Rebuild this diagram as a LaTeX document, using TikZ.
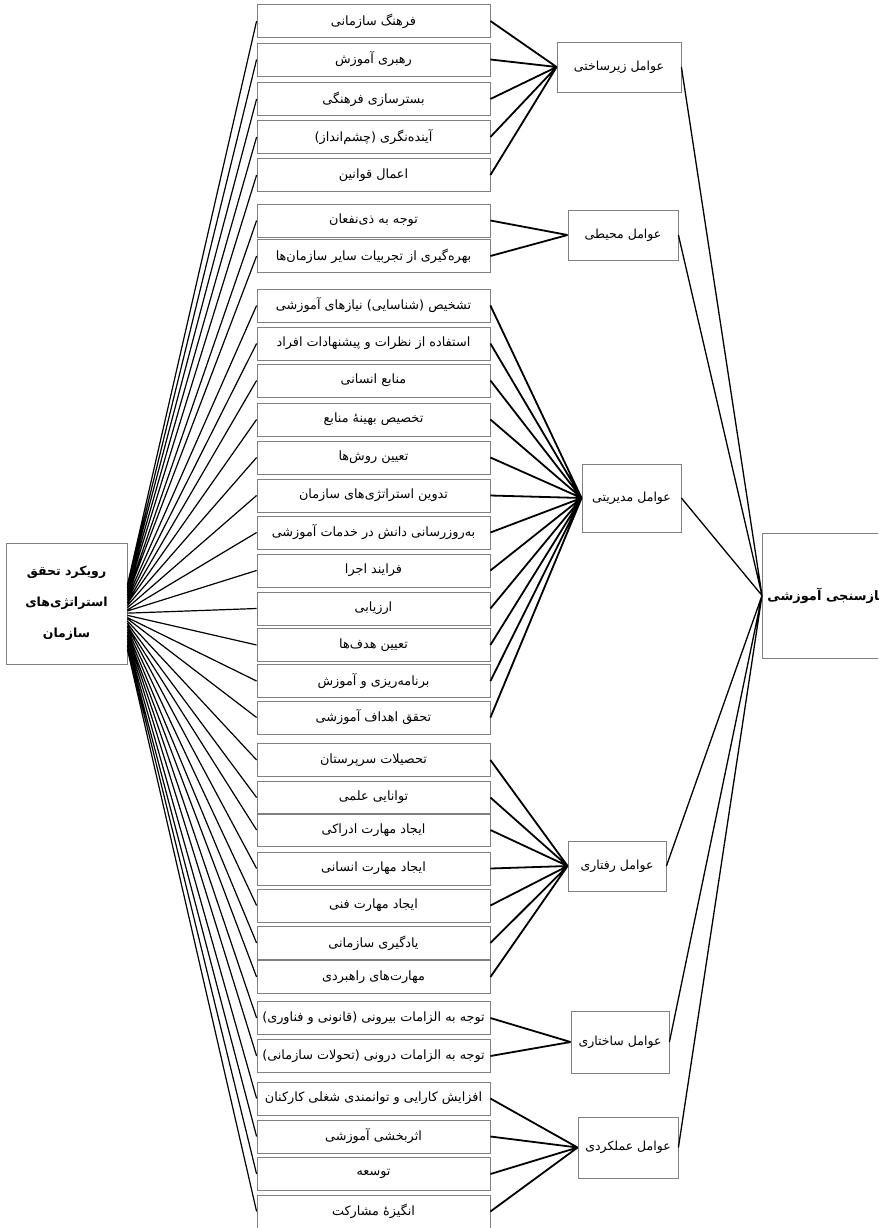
\documentclass[tikz,border=0pt]{standalone}
\usepackage{fontspec}
\newfontfamily\fa[Script=Arabic]{DejaVu Sans}
\TeXXeTstate=1
\newcommand{\farsi}[1]{\beginR #1\endR}
\usetikzlibrary{positioning}
\tikzset
{
    itembox/.style   = {rectangle, draw=gray, line width=0.8pt, align=center, minimum width=233pt, minimum height=33pt, inner sep=1pt, font=\fa\fontsize{12.8}{15}\selectfont},
    factorbox/.style = {rectangle, draw=gray, line width=0.8pt, align=center, inner sep=1pt, font=\fa\fontsize{12.5}{15}\selectfont},
    rootbox/.style   = {rectangle, draw=gray, line width=0.8pt, align=center, minimum width=121pt, minimum height=121pt, font=\fa\bfseries\fontsize{12.5}{31}\selectfont},
    mainbox/.style   = {rectangle, draw=gray, line width=0.8pt, anchor=west, minimum height=125pt, inner xsep=5pt, font=\fa\bfseries\fontsize{13}{15}\selectfont},
    rootline/.style   = {line width=1.2pt},
    factorline/.style = {line width=1.8pt},
    mainline/.style   = {line width=1.3pt}
}

\begin{document}
\begin{tikzpicture}[x=1pt, y=-1pt]
    \useasboundingbox (0,0) rectangle (878,1228);
    \clip (0,0) rectangle (878,1228);

    % left and right ends
    \node [rootbox] (root) at (66.5,603.5) {\farsi{رویکرد تحقق}\\ \farsi{استراتژی‌های}\\ \farsi{سازمان}};
    \node [mainbox] (main) at (762,595.5) {\farsi{نیازسنجی آموزشی}};

    % factors
    \node [factorbox, minimum width=124pt, minimum height=50pt] (infra)  at (619,67)     {\farsi{عوامل زیرساختی}};
    \node [factorbox, minimum width=110pt, minimum height=50pt] (envir)  at (623,235)    {\farsi{عوامل محیطی}};
    \node [factorbox, minimum width=99pt,  minimum height=68pt] (manag)  at (631.5,498)  {\farsi{عوامل مدیریتی}};
    \node [factorbox, minimum width=98pt,  minimum height=50pt] (behav)  at (617,866)    {\farsi{عوامل رفتاری}};
    \node [factorbox, minimum width=98pt,  minimum height=62pt] (struc)  at (620,1042)   {\farsi{عوامل ساختاری}};
    \node [factorbox, minimum width=100pt, minimum height=61pt] (perf)   at (628,1147.5) {\farsi{عوامل عملکردی}};

    % items
    \node [itembox] (i1)  at (373.5,21)     {\farsi{فرهنگ سازمانی}};
    \node [itembox] (i2)  at (373.5,59.5)   {\farsi{رهبری آموزش}};
    \node [itembox] (i3)  at (373.5,99)     {\farsi{بسترسازی فرهنگی}};
    \node [itembox] (i4)  at (373.5,137)    {\farsi{آینده‌نگری (چشم‌انداز)}};
    \node [itembox] (i5)  at (373.5,175)    {\farsi{اعمال قوانین}};
    \node [itembox] (i6)  at (373.5,220.5)  {\farsi{توجه به ذی‌نفعان}};
    \node [itembox] (i7)  at (373.5,256)    {\farsi{بهره‌گیری از تجربیات سایر سازمان‌ها}};
    \node [itembox] (i8)  at (373.5,305.5)  {\farsi{تشخیص (شناسایی) نیازهای آموزشی}};
    \node [itembox] (i9)  at (373.5,343.5)  {\farsi{استفاده از نظرات و پیشنهادات افراد}};
    \node [itembox] (i10) at (373.5,380.5)  {\farsi{منابع انسانی}};
    \node [itembox] (i11) at (373.5,419.5)  {\farsi{تخصیص بهینهٔ منابع}};
    \node [itembox] (i12) at (373.5,457.5)  {\farsi{تعیین روش‌ها}};
    \node [itembox] (i13) at (373.5,495.5)  {\farsi{تدوین استراتژی‌های سازمان}};
    \node [itembox] (i14) at (373.5,532.5)  {\farsi{به‌روزرسانی دانش در خدمات آموزشی}};
    \node [itembox] (i15) at (373.5,570.5)  {\farsi{فرایند اجرا}};
    \node [itembox] (i16) at (373.5,608.5)  {\farsi{ارزیابی}};
    \node [itembox] (i17) at (373.5,645)    {\farsi{تعیین هدف‌ها}};
    \node [itembox] (i18) at (373.5,681)    {\farsi{برنامه‌ریزی و آموزش}};
    \node [itembox] (i19) at (373.5,717.5)  {\farsi{تحقق اهداف آموزشی}};
    \node [itembox] (i20) at (373.5,760)    {\farsi{تحصیلات سرپرستان}};
    \node [itembox] (i21) at (373.5,797.5)  {\farsi{توانایی علمی}};
    \node [itembox] (i22) at (373.5,830)    {\farsi{ایجاد مهارت ادراکی}};
    \node [itembox] (i23) at (373.5,868.5)  {\farsi{ایجاد مهارت انسانی}};
    \node [itembox] (i24) at (373.5,905.5)  {\farsi{ایجاد مهارت فنی}};
    \node [itembox] (i25) at (373.5,943)    {\farsi{یادگیری سازمانی}};
    \node [itembox] (i26) at (373.5,977)    {\farsi{مهارت‌های راهبردی}};
    \node [itembox] (i27) at (373.5,1018)   {\farsi{توجه به الزامات بیرونی (قانونی و فناوری)}};
    \node [itembox] (i28) at (373.5,1056)   {\farsi{توجه به الزامات درونی (تحولات سازمانی)}};
    \node [itembox] (i29) at (373.5,1098.5) {\farsi{افزایش کارایی و توانمندی شغلی کارکنان}};
    \node [itembox] (i30) at (373.5,1136.5) {\farsi{اثربخشی آموزشی}};
    \node [itembox] (i31) at (373.5,1174)   {\farsi{توسعه}};
    \node [itembox] (i32) at (373.5,1211.5) {\farsi{انگیزهٔ مشارکت}};

    % root fan
    \draw [rootline]
        (root.17) -- (i1.west)   (root.15) -- (i2.west)   (root.14) -- (i3.west)   (root.12) -- (i4.west)
        (root.10) -- (i5.west)   (root.8) -- (i6.west)    (root.7) -- (i7.west)    (root.5) -- (i8.west)
        (root.3) -- (i9.west)    (root.1) -- (i10.west)   (root.0) -- (i11.west)   (root.-2) -- (i12.west)
        (root.-4) -- (i13.west)  (root.-6) -- (i14.west)  (root.-7) -- (i15.west)  (root.-9) -- (i16.west)
        (root.-11) -- (i17.west) (root.-13) -- (i18.west) (root.-14) -- (i19.west) (root.-16) -- (i20.west)
        (root.-18) -- (i21.west) (root.-20) -- (i22.west) (root.-21) -- (i23.west) (root.-23) -- (i24.west)
        (root.-25) -- (i25.west) (root.-27) -- (i26.west) (root.-28) -- (i27.west) (root.-30) -- (i28.west)
        (root.-32) -- (i29.west) (root.-34) -- (i30.west) (root.-35) -- (i31.west) (root.-37) -- (i32.west);

    % items to factors
    \draw [factorline]
        (i1.east) -- (infra.west)  (i2.east) -- (infra.west)  (i3.east) -- (infra.west)
        (i4.east) -- (infra.west)  (i5.east) -- (infra.west)
        (i6.east) -- (envir.west)  (i7.east) -- (envir.west)
        (i8.east) -- (manag.west)  (i9.east) -- (manag.west)  (i10.east) -- (manag.west)
        (i11.east) -- (manag.west) (i12.east) -- (manag.west) (i13.east) -- (manag.west)
        (i14.east) -- (manag.west) (i15.east) -- (manag.west) (i16.east) -- (manag.west)
        (i17.east) -- (manag.west) (i18.east) -- (manag.west) (i19.east) -- (manag.west)
        (i20.east) -- (behav.west) (i21.east) -- (behav.west) (i22.east) -- (behav.west)
        (i23.east) -- (behav.west) (i24.east) -- (behav.west) (i25.east) -- (behav.west)
        (i26.east) -- (behav.west)
        (i27.east) -- (struc.west) (i28.east) -- (struc.west)
        (i29.east) -- (perf.west)  (i30.east) -- (perf.west)  (i31.east) -- (perf.west)
        (i32.east) -- (perf.west);

    % factors to main
    \draw [mainline]
        (infra.east) -- (main.west) (envir.east) -- (main.west) (manag.east) -- (main.west)
        (behav.east) -- (main.west) (struc.east) -- (main.west) (perf.east) -- (main.west);
\end{tikzpicture}
\end{document}
